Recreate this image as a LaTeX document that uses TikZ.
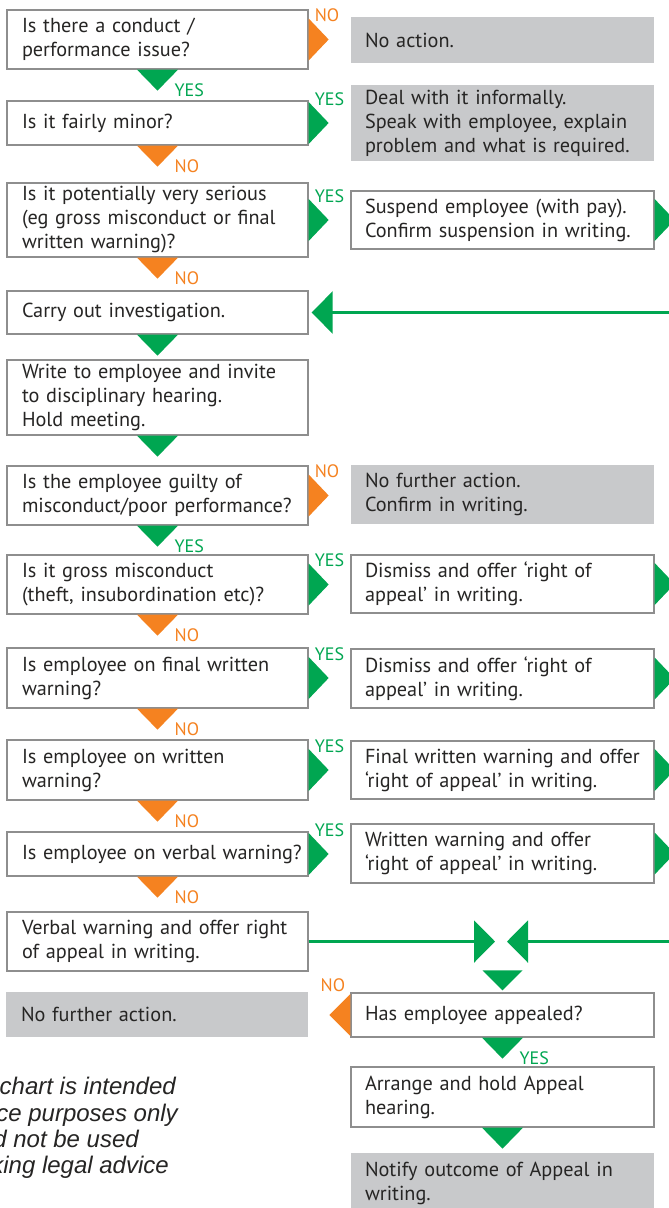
\documentclass[tikz,border=0pt]{standalone}
\usepackage{fontspec}
\setmainfont{PT Sans}
\newfontfamily\notefont{Liberation Sans}
\usetikzlibrary{arrows.meta,calc}

\definecolor{flowgreen}{HTML}{00A651}
\definecolor{floworange}{HTML}{F58220}
\definecolor{panel}{HTML}{C8C9CB}
\definecolor{edge}{HTML}{8E8E8E}
\definecolor{ink}{HTML}{262524}

\tikzset{
  base/.style={inner xsep=0pt, inner ysep=0pt, align=left, text=ink,
    font=\fontsize{20.25}{24}\selectfont},
  qbox/.style={base, draw=edge, line width=1.3pt, fill=white, text width=301pt,
    execute at begin node={\leftskip=15pt\rightskip=-8pt plus 1fil\hyphenpenalty=10000}},
  abox/.style={base, draw=edge, line width=1.3pt, fill=white, text width=303pt,
    execute at begin node={\leftskip=14pt\rightskip=-8pt plus 1fil\hyphenpenalty=10000}},
  shade/.style={draw=none, fill=panel},
  tag/.style={inner sep=0pt, font=\fontsize{18}{18}\selectfont},
  note/.style={inner sep=0pt, text=ink, font=\notefont\itshape\fontsize{24}{26}\selectfont},
  flowline/.style={draw=flowgreen, line width=2.5pt},
}

% triangle under a box, with its label
\newcommand{\downtip}[3]{%
  \fill[#2] ($(#1.south)+(-20.5,0)$) -- ($(#1.south)+(20.5,0)$)
    -- ($(#1.south)+(0,-21)$) coordinate (#1-s) -- cycle;
  \node[tag, text=#2, anchor=west] (#1-sl) at ($(#1-s)+(17,0)$) {#3};}
% triangle beside a box, with its label
\newcommand{\righttip}[3]{%
  \fill[#2] ($(#1.east)+(0,21)$) -- ($(#1.east)+(20,0)$)
    -- ($(#1.east)+(0,-21)$) -- cycle;
  \node[tag, text=#2, anchor=west] (#1-el) at ($(#1.east)+(6,24)$) {#3};}

\begin{document}
\begin{tikzpicture}[x=1pt,y=1pt]
	\useasboundingbox[fill=white] (0,0) rectangle (669,-1208);

	% questions, left column
	\node[qbox, minimum height=59pt] (q1) at (157.5,-39.5) {Is there a conduct /\\performance issue?};
	\node[qbox, minimum height=44pt] (q2) at (157.5,-123) {Is it fairly minor?};
	\node[qbox, minimum height=74pt] (q3) at (157.5,-220) {Is it potentially very serious\\(eg gross misconduct or final\\written warning)?};
	\node[qbox, minimum height=43pt] (carry) at (157.5,-312.5) {Carry out investigation.};
	\node[qbox, minimum height=75pt] (write) at (157.5,-397.5) {Write to employee and invite\\to disciplinary hearing.\\Hold meeting.};
	\node[qbox, minimum height=59pt] (guilty) at (157.5,-495.5) {Is the employee guilty of\\misconduct/poor performance?};
	\node[qbox, minimum height=59pt] (gross) at (157.5,-584.5) {Is it gross misconduct\\(theft, insubordination etc)?};
	\node[qbox, minimum height=60pt] (final) at (157.5,-678) {Is employee on final written\\warning?};
	\node[qbox, minimum height=60pt] (written) at (157.5,-770) {Is employee on written\\warning?};
	\node[qbox, minimum height=44pt] (verbal) at (157.5,-854) {Is employee on verbal warning?};
	\node[qbox, minimum height=59pt] (vw) at (157.5,-941.5) {Verbal warning and offer right\\of appeal in writing.};
	\node[qbox, shade, text width=302pt, minimum height=45pt] (nfa) at (157,-1014.5) {No further action.};

	% outcomes, right column
	\node[abox, shade, minimum height=46pt] (a1) at (502.5,-40) {No action.};
	\node[abox, shade, minimum height=76pt] (a2) at (502.5,-123) {Deal with it informally.\\Speak with employee, explain\\problem and what is required.};
	\node[abox, minimum height=58pt] (a3) at (502.5,-220) {Suspend employee (with pay).\\Confirm suspension in writing.};
	\node[abox, shade, minimum height=59pt] (a4) at (502.5,-494.5) {No further action.\\Confirm in writing.};
	\node[abox, minimum height=58pt] (a5) at (502.5,-584) {Dismiss and offer ‘right of\\appeal’ in writing.};
	\node[abox, minimum height=59pt] (a6) at (502.5,-678.5) {Dismiss and offer ‘right of\\appeal’ in writing.};
	\node[abox, minimum height=58pt] (a7) at (502.5,-770) {Final written warning and offer\\‘right of appeal’ in writing.};
	\node[abox, minimum height=59pt] (a8) at (502.5,-853.5) {Written warning and offer\\‘right of appeal’ in writing.};
	\node[abox, minimum height=44pt] (appeal) at (502.5,-1015) {Has employee appealed?};
	\node[abox, minimum height=60pt] (arrange) at (502.5,-1097) {Arrange and hold Appeal\\hearing.};
	\node[abox, shade, minimum height=60pt] (notify) at (502.5,-1183) {Notify outcome of Appeal in\\writing.};

	% yes / no tips
	\downtip{q1}{flowgreen}{YES}
	\downtip{q2}{floworange}{NO}
	\downtip{q3}{floworange}{NO}
	\downtip{carry}{flowgreen}{}
	\downtip{write}{flowgreen}{}
	\downtip{guilty}{flowgreen}{YES}
	\downtip{gross}{floworange}{NO}
	\downtip{final}{floworange}{NO}
	\downtip{written}{floworange}{NO}
	\downtip{verbal}{floworange}{NO}
	\righttip{q1}{floworange}{NO}
	\righttip{q2}{flowgreen}{YES}
	\righttip{q3}{flowgreen}{YES}
	\righttip{guilty}{floworange}{NO}
	\righttip{gross}{flowgreen}{YES}
	\righttip{final}{flowgreen}{YES}
	\righttip{written}{flowgreen}{YES}
	\righttip{verbal}{flowgreen}{YES}
	\righttip{a3}{flowgreen}{}
	\righttip{a5}{flowgreen}{}
	\righttip{a6}{flowgreen}{}
	\righttip{a7}{flowgreen}{}
	\righttip{a8}{flowgreen}{}

	% return lines
	\coordinate (rim1) at (669,-312.5);
	\coordinate (rim2) at (669,-941.5);
	\coordinate (join) at (501,-941.5);
	\draw[flowline, -{Triangle[width=42pt,length=21pt]}, shorten >=3pt] (rim1) -- (carry.east);
	\draw[flowline, -{Triangle[width=42pt,length=21pt]}, shorten >=6pt] (vw.east) -- (join);
	\draw[flowline, -{Triangle[width=42pt,length=21pt]}, shorten >=6pt] (rim2) -- (join);

	% appeal
	\fill[flowgreen] ($(appeal.north)+(-20,22)$) -- ($(appeal.north)+(20,22)$) -- ($(appeal.north)+(0,2)$) -- cycle;
	\fill[floworange] ($(appeal.west)+(0,21)$) -- ($(appeal.west)+(-21,0)$) -- ($(appeal.west)+(0,-21)$) -- cycle;
	\node[tag, text=floworange, anchor=east] (appeal-no) at ($(appeal.west)+(-5,29.5)$) {NO};
	\downtip{appeal}{flowgreen}{YES}
	\downtip{arrange}{flowgreen}{}

	% note
	\node[note, anchor=base east] (n1) at (176,-1094) {chart is intended};
	\node[note, anchor=base east] (n2) at (178,-1121) {ce purposes only};
	\node[note, anchor=base east] (n3) at (139,-1147) {d not be used};
	\node[note, anchor=base east] (n4) at (169,-1173) {king legal advice};
\end{tikzpicture}
\end{document}
